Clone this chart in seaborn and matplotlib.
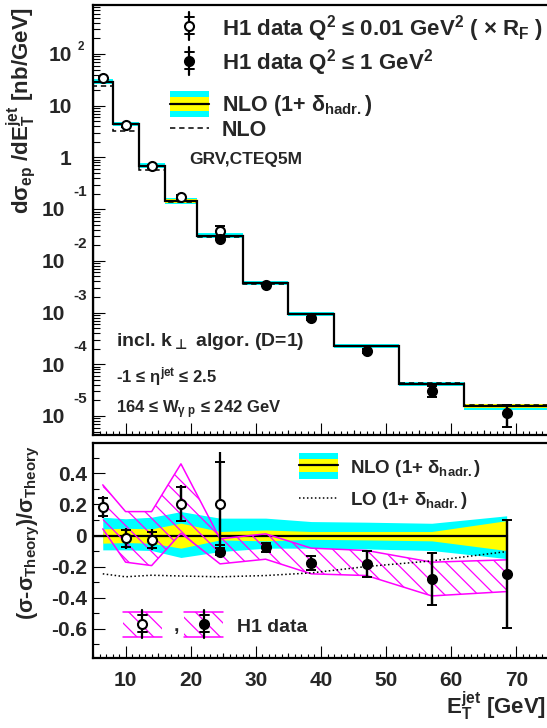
import numpy as np
import matplotlib
matplotlib.use("Agg")
import matplotlib.pyplot as plt
import matplotlib.transforms as mtransforms
from matplotlib.patches import Rectangle
from matplotlib.lines import Line2D
from matplotlib.ticker import MultipleLocator, LogLocator, NullFormatter
import seaborn as sns
import pandas as pd

# ---- data ----
et_edges = [5, 8, 12, 16, 21, 28, 35, 42, 52, 62, 75]
et_centres = [6.5, 10, 14, 18.5, 24.5, 31.5, 38.5, 47, 57, 68.5]

# NLO x (1+delta_hadr) and parton level NLO  [nb/GeV]
nlo_had = [29.1, 4.43, 0.69, 0.1435, 0.0305, 3.66e-3, 9.35e-4, 2.23e-4, 4.16e-5, 1.55e-5]
nlo_parton = [24.0, 3.28, 0.57, 0.137, 0.0296, 3.62e-3, 9.4e-4, 2.3e-4, 4.3e-5, 1.67e-5]

# H1 data, Q2 < 0.01 (x R_F) in bins 1-5, Q2 < 1 in bins 5-10
open_x = [6.5, 10, 14, 18.5, 24.5]
open_xs = [34.8, 4.18, 0.67, 0.169, 0.0382]
filled_x = [24.5, 31.5, 38.5, 47, 57, 68.5]
filled_xs = [0.0267, 3.4e-3, 7.73e-4, 1.82e-4, 3.04e-5, 1.12e-5]

# (sigma - sigma_theory) / sigma_theory
open_ratio = [0.183, -0.017, -0.028, 0.204, 0.204]
open_stat = [0.06, 0.055, 0.05, 0.11, 0.266]
open_tot = [0.073, 0.068, 0.068, 0.118, 0.33]
filled_ratio = [-0.103, -0.075, -0.174, -0.182, -0.278, -0.246]
filled_stat = [0.025, 0.03, 0.045, 0.083, 0.168, 0.348]
filled_tot = [0.03, 0.035, 0.05, 0.09, 0.175, 0.355]

# correlated systematics (hatched band)
syst_hi = [0.326, 0.154, 0.154, 0.461, -0.021, 0.011, -0.081, -0.096, -0.171, -0.156]
syst_lo = [0.043, -0.171, -0.193, 0.015, -0.182, -0.152, -0.246, -0.257, -0.388, -0.36]

# theory bands
cyan_hi = [0.118, 0.108, 0.118, 0.154, 0.112, 0.112, 0.09, 0.086, 0.079, 0.127]
cyan_lo = [-0.092, -0.092, -0.096, -0.141, -0.103, -0.081, -0.081, -0.086, -0.096, -0.148]
yellow_hi = [0.043, 0.047, 0.043, 0.08, 0.026, 0.036, 0.026, 0.026, 0.026, 0.096]
yellow_lo = [-0.049, -0.045, -0.049, -0.081, -0.028, -0.034, -0.024, -0.028, -0.034, -0.096]
lo_ratio = [-0.246, -0.265, -0.255, -0.26, -0.265, -0.257, -0.24, -0.199, -0.163, -0.103]

CYAN = "#00ffff"
YELLOW = "#ffff00"
MAGENTA = "#ff00ff"
TICK_FS = 15

sns.set_theme(style="ticks")
plt.rcParams["font.family"] = ["Liberation Sans", "DejaVu Sans"]
plt.rcParams["font.weight"] = "bold"
plt.rcParams["mathtext.fontset"] = "custom"
plt.rcParams["mathtext.rm"] = "Liberation Sans:bold"
plt.rcParams["mathtext.it"] = "Liberation Sans:bold"
plt.rcParams["mathtext.bf"] = "Liberation Sans:bold"
plt.rcParams["mathtext.sf"] = "Liberation Sans:bold"
plt.rcParams["mathtext.fallback"] = "stixsans"
plt.rcParams["axes.unicode_minus"] = False
plt.rcParams["hatch.linewidth"] = 0.9

W, H = 547, 728
fig = plt.figure(figsize=(W / 100, H / 100), dpi=100)
fig.patch.set_facecolor("white")


def fx(px):
    return px / W


def fy(py):
    return 1 - py / H


ax1 = fig.add_axes([fx(93), fy(435), (549 - 93) / W, (435 - 4.7) / H])
ax2 = fig.add_axes([fx(93), fy(658), (549 - 93) / W, (658 - 443.3) / H])

for ax in (ax1, ax2):
    ax.set_facecolor("white")
    for sp in ax.spines.values():
        sp.set_linewidth(1.6)
        sp.set_color("black")
        sp.set_visible(True)
    ax.tick_params(which="both", direction="in", top=False, right=False,
                   color="black", width=0.8)
    ax.tick_params(which="major", length=8.5)
    ax.tick_params(which="minor", length=3)
    ax.set_xlim(5, 75)
    ax.xaxis.set_major_locator(MultipleLocator(10))
    ax.xaxis.set_minor_locator(MultipleLocator(1))
    # medium ticks at the 5s
    btr = mtransforms.blended_transform_factory(ax.transData, ax.transAxes)
    hgt = 5.5 / (ax.get_position().height * H)
    for v in range(15, 75, 10):
        ax.plot([v, v], [0, hgt], transform=btr, color="black", lw=0.8,
                solid_capstyle="butt", zorder=6, clip_on=False)

# ---------------- top panel ----------------
ax1.set_yscale("log")
ax1.set_ylim(4.3e-6, 900)
ax1.yaxis.set_major_locator(LogLocator(base=10, numticks=20))
ax1.yaxis.set_minor_locator(LogLocator(base=10, subs=np.arange(2, 10), numticks=20))
ax1.yaxis.set_minor_formatter(NullFormatter())
ax1.tick_params(axis="y", which="minor", length=5)
ax1.tick_params(labelbottom=False, labelleft=False)

had = np.array(nlo_had)
c_lo = had * (1 + np.array(cyan_lo))
c_hi = had * (1 + np.array(cyan_hi))
y_lo = had * (1 + np.array(yellow_lo))
y_hi = had * (1 + np.array(yellow_hi))
ax1.fill_between(et_edges, np.append(c_lo, c_lo[-1]), np.append(c_hi, c_hi[-1]),
                 step="post", color=CYAN, lw=0, zorder=1)
ax1.fill_between(et_edges, np.append(y_lo, y_lo[-1]), np.append(y_hi, y_hi[-1]),
                 step="post", color=YELLOW, lw=0, zorder=2)
ax1.stairs(nlo_had, et_edges, color="black", lw=1.6, zorder=3)
ax1.stairs(nlo_parton, et_edges, color="black", lw=1.1, ls=(0, (3.5, 2.5)), zorder=3)


def draw_points(ax, x, y, stat, tot, filled):
    face = "black" if filled else "white"
    ax.errorbar(x, y, yerr=tot, fmt="none", ecolor="black", elinewidth=1.6,
                capsize=0, zorder=7)
    ax.errorbar(x, y, yerr=stat, fmt="none", ecolor="black", elinewidth=1.6,
                capsize=3.5, capthick=1.4, zorder=7)
    ax.plot(x, y, ls="none", marker="o", ms=6.5, mfc=face, mec="black",
            mew=1.5, zorder=8)


o_rel_s = np.array(open_stat) / (1 + np.array(open_ratio))
o_rel_t = np.array(open_tot) / (1 + np.array(open_ratio))
f_rel_s = np.array(filled_stat) / (1 + np.array(filled_ratio))
f_rel_t = np.array(filled_tot) / (1 + np.array(filled_ratio))
draw_points(ax1, open_x, open_xs, np.array(open_xs) * o_rel_s,
            np.array(open_xs) * o_rel_t, False)
draw_points(ax1, filled_x, filled_xs, np.array(filled_xs) * f_rel_s,
            np.array(filled_xs) * f_rel_t, True)

# ROOT-like log tick labels
lab_tr = mtransforms.blended_transform_factory(fig.transFigure, ax1.transData)
for n in range(-5, 3):
    v = 10.0 ** n
    base = mtransforms.offset_copy(lab_tr, fig=fig, y=-7.3, units="dots")
    if n == 0:
        ax1.text(fx(71), v, "1", transform=base, ha="right", va="baseline",
                 fontsize=TICK_FS, fontweight="bold")
    elif n == 1:
        ax1.text(fx(72), v, "10", transform=base, ha="right", va="baseline",
                 fontsize=TICK_FS, fontweight="bold")
    elif n == 2:
        ax1.text(fx(72), v, "10", transform=base, ha="right", va="baseline",
                 fontsize=TICK_FS, fontweight="bold")
        ex = mtransforms.offset_copy(lab_tr, fig=fig, y=4.5, units="dots")
        ax1.text(fx(78), v, "2", transform=ex, ha="left", va="baseline",
                 fontsize=8.5, fontweight="bold")
    else:
        ax1.text(fx(65), v, "10", transform=base, ha="right", va="baseline",
                 fontsize=TICK_FS, fontweight="bold")
        ex = mtransforms.offset_copy(lab_tr, fig=fig, y=13, units="dots")
        ax1.text(fx(73), v, f"{n}", transform=ex, ha="left", va="baseline",
                 fontsize=11, fontweight="bold")

# ---------------- bottom panel ----------------
ax2.set_ylim(-0.787, 0.593)
ax2.yaxis.set_major_locator(MultipleLocator(0.2))
ax2.yaxis.set_minor_locator(MultipleLocator(0.1))
ax2.tick_params(axis="y", which="minor", length=4.5)
ax2.tick_params(axis="x", which="major", pad=9)
ax2.tick_params(axis="y", which="major", pad=4.5)
ax2.set_yticks([0.4, 0.2, 0.0, -0.2, -0.4, -0.6])
ax2.set_yticklabels(["0.4", "0.2", "0", "-0.2", "-0.4", "-0.6"])
for lab in ax2.get_xticklabels() + ax2.get_yticklabels():
    lab.set_fontsize(TICK_FS)
    lab.set_fontweight("bold")

ax2.fill_between(et_centres, cyan_lo, cyan_hi, color=CYAN, lw=0, zorder=1)
ax2.fill_between(et_centres, yellow_lo, yellow_hi, color=YELLOW, lw=0, zorder=2)
ax2.plot([5, 68.5], [0, 0], color="black", lw=1.6, zorder=3)

ax2.fill_between(et_centres, syst_lo, syst_hi, facecolor="none", edgecolor=MAGENTA,
                 hatch="\\\\", lw=0, zorder=4)
ratio_df = pd.DataFrame({"et": et_centres, "hi": syst_hi, "lo": syst_lo, "lo_th": lo_ratio})
sns.lineplot(data=ratio_df, x="et", y="hi", ax=ax2, color=MAGENTA, lw=1.1,
             sort=False, estimator=None, zorder=5)
sns.lineplot(data=ratio_df, x="et", y="lo", ax=ax2, color=MAGENTA, lw=1.1,
             sort=False, estimator=None, zorder=5)
sns.lineplot(data=ratio_df, x="et", y="lo_th", ax=ax2, color="black", lw=1.1,
             ls=(0, (1, 1.6)), sort=False, estimator=None, zorder=5)
ax2.set_xlabel("")
ax2.set_ylabel("")

draw_points(ax2, open_x, open_ratio, open_stat, open_tot, False)
draw_points(ax2, filled_x, filled_ratio, filled_stat, filled_tot, True)
ax2.set_xlim(5, 75)

# ---------------- legends & texts ----------------
def fig_line(x0, x1, y0, y1, **kw):
    fig.add_artist(Line2D([fx(x0), fx(x1)], [fy(y0), fy(y1)], transform=fig.transFigure, **kw))


def fig_rect(x0, x1, y0, y1, **kw):
    fig.add_artist(Rectangle((fx(x0), fy(y1)), fx(x1) - fx(x0), fy(y0) - fy(y1),
                             transform=fig.transFigure, **kw))


def data_glyph(x, y, filled):
    fig_line(x, x, y - 14, y + 14, color="black", lw=1.6)
    for yy in (y - 8.7, y + 8.3):
        fig_line(x - 4.5, x + 4.5, yy, yy, color="black", lw=1.4)
    fig.add_artist(Line2D([fx(x)], [fy(y)], transform=fig.transFigure, ls="none",
                          marker="o", ms=6.5, mfc="black" if filled else "white",
                          mec="black", mew=1.5))


def band_glyph(x0, x1, yc):
    fig_rect(x0, x1, yc - 13, yc + 13, facecolor=CYAN, lw=0)
    fig_rect(x0, x1, yc - 6.5, yc + 6.5, facecolor=YELLOW, lw=0)
    fig_line(x0, x1, yc, yc, color="black", lw=1.6)


def hatch_glyph(x0, x1, y0, y1):
    fig_rect(x0, x1, y0, y1, facecolor="none", edgecolor=MAGENTA, hatch="\\\\", lw=0)
    fig_line(x0, x1, y0, y0, color=MAGENTA, lw=1.1)
    fig_line(x0, x1, y1, y1, color=MAGENTA, lw=1.1)


def ftext(x, y, s, size, **kw):
    fig.text(fx(x), fy(y), s, fontsize=size, fontweight="bold", ha=kw.pop("ha", "left"),
             va=kw.pop("va", "baseline"), **kw)


data_glyph(189, 26, False)
data_glyph(189, 61, True)
ftext(222, 35, r"H1 data Q$^{2}$ ≤ 0.01 GeV$^{2}$ ( × R$_{F}$ )", 16)
ftext(222, 70, r"H1 data Q$^{2}$ ≤ 1 GeV$^{2}$", 16)
band_glyph(170, 209, 104)
ftext(222, 110.5, r"NLO (1+ $\delta_{hadr.}$)", 15.5)
fig_line(170, 209, 128, 128, color="black", lw=1.1, ls=(0, (3.5, 2.5)))
ftext(222, 136.5, "NLO", 15.5)
ftext(189, 164, "GRV,CTEQ5M", 12.5)
ftext(116, 345.5, r"incl. k$_{\bot}$ algor. (D=1)", 14, math_fontfamily="dejavusans")
ftext(116, 382, r"-1 ≤ $\eta^{jet}$ ≤ 2.5", 12)
ftext(116, 413.5, r"164 ≤ W$_{\gamma\ p}$ ≤ 242 GeV", 12)

band_glyph(299, 338, 465.5)
ftext(350, 473.3, r"NLO (1+ $\delta_{hadr.}$)", 13.5)
fig_line(299, 338, 498, 498, color="black", lw=1.1, ls=(0, (1, 1.6)))
ftext(350, 505, r"LO (1+ $\delta_{hadr.}$)", 13.5)
hatch_glyph(123, 162, 612.3, 637.3)
hatch_glyph(184, 223, 612.3, 637.3)
data_glyph(142, 624, False)
data_glyph(204, 624, True)
ftext(174, 631, ",", 14)
ftext(237, 631.7, "H1 data", 14)

# axis titles
fig.text(fx(29), fy(7), r"d$\sigma_{ep}$ /dE$_{T}^{jet}$ [nb/GeV]", rotation=90,
         rotation_mode="anchor", ha="right", va="baseline", fontsize=16, fontweight="bold")
fig.text(fx(33), fy(446), r"($\sigma$-$\sigma_{Theory}$)/$\sigma_{Theory}$", rotation=90,
         rotation_mode="anchor", ha="right", va="baseline", fontsize=15.5, fontweight="bold")
fig.text(fx(546), fy(714), r"E$_{T}^{jet}$ [GeV]", ha="right", va="baseline",
         fontsize=16, fontweight="bold")

fig.savefig("out.png", dpi=100, facecolor="white")
